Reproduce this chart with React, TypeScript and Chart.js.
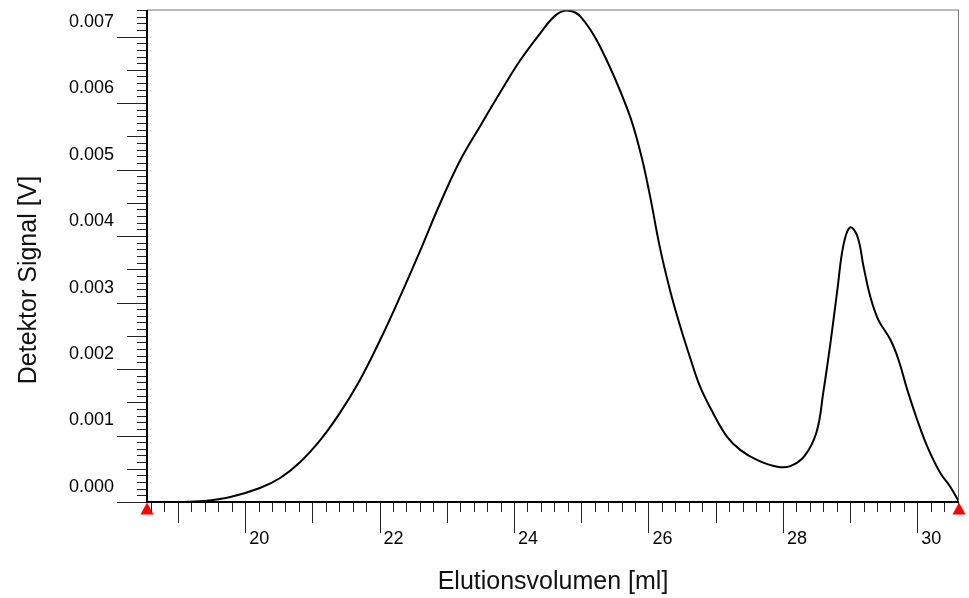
import React, { useEffect, useRef } from "react";
import { Chart, registerables } from "chart.js";

Chart.register(...registerables);

// Elution volume [ml]
const elutionMl = [
  18.54, 18.96, 19.39, 19.78, 20.22, 20.52, 20.82, 21.12, 21.41, 21.71,
  22.01, 22.31, 22.6, 22.9, 23.2, 23.5, 23.8, 24.09, 24.39, 24.63,
  24.81, 24.99, 25.28, 25.69, 25.88, 26.02, 26.17, 26.32, 26.47, 26.62,
  26.77, 26.96, 27.17, 27.37, 27.62, 27.92, 28.11, 28.32, 28.5,
  28.6, 28.71, 28.81, 28.9, 29.0, 29.11, 29.2, 29.3, 29.42, 29.6,
  29.72, 29.85, 30.0, 30.15, 30.34, 30.49, 30.62,
];

// Detector signal [V]
const signalV = [
  0, 0, 0.000015, 0.000075, 0.000211, 0.000361, 0.000602, 0.000934, 0.00134, 0.00184,
  0.00244, 0.0031, 0.00377, 0.00449, 0.00514, 0.00566, 0.00617, 0.00664, 0.00705, 0.00733,
  0.00739, 0.0073, 0.00685, 0.0059, 0.00526, 0.00462, 0.00383, 0.00319, 0.00265, 0.00217,
  0.00173, 0.00134, 0.00098, 0.00078, 0.00063, 0.00053, 0.00054, 0.00069, 0.00105,
  0.00164, 0.00241, 0.00319, 0.00386, 0.00413, 0.00399, 0.00354, 0.00309, 0.00274, 0.00244,
  0.00214, 0.00169, 0.00123, 0.00083, 0.00044, 0.00023, 0,
];

// Integration limits (red markers)
const integrationLimits = [18.54, 30.62];

const xRange = [18.54, 30.62];
const yRange = [0, 0.0074];
const xMajorStep = 2;
const yMajorStep = 0.001;

const xTitle = "Elutionsvolumen [ml]";
const yTitle = "Detektor Signal [V]";

const FONT = '"Liberation Sans", Arial, Helvetica, sans-serif';

const chromPlugin = {
  id: "chromAxes",
  afterDraw(chart: any) {
    const { ctx, chartArea: a, scales } = chart;
    const x = scales.x;
    const y = scales.y;
    ctx.save();

    // tick marks
    ctx.strokeStyle = "#222";
    ctx.lineWidth = 1;
    ctx.beginPath();
    const yCount = Math.floor(y.max / 0.0001 + 1e-6);
    for (let i = 0; i <= yCount; i++) {
      const v = i * 0.0001;
      const py = Math.round(y.getPixelForValue(v)) + 0.5;
      const len = i % 10 === 0 ? 30 : i % 5 === 0 ? 20 : 10;
      ctx.moveTo(a.left - len, py);
      ctx.lineTo(a.left, py);
    }
    for (let i = Math.ceil(x.min / 0.2 - 1e-6); i * 0.2 <= x.max + 1e-6; i++) {
      const px = Math.round(x.getPixelForValue(i * 0.2)) + 0.5;
      const len = i % 10 === 0 ? 31 : i % 5 === 0 ? 21 : 10;
      ctx.moveTo(px, a.bottom);
      ctx.lineTo(px, a.bottom + len);
    }
    ctx.stroke();

    // frame: top and right gray
    ctx.strokeStyle = "#777";
    ctx.lineWidth = 1;
    ctx.beginPath();
    ctx.moveTo(a.left, a.top);
    ctx.lineTo(a.right - 0.5, a.top);
    ctx.lineTo(a.right - 0.5, a.bottom);
    ctx.stroke();

    // axes: left and bottom black
    ctx.fillStyle = "#000";
    ctx.fillRect(a.left - 1, a.top, 2, a.bottom - a.top + 1);
    ctx.fillRect(a.left - 1, a.bottom - 1, a.right - a.left + 1, 2);

    // integration limit markers
    ctx.fillStyle = "#ff0000";
    for (const lim of integrationLimits) {
      const px = x.getPixelForValue(lim);
      ctx.beginPath();
      ctx.moveTo(px, a.bottom + 0.5);
      ctx.lineTo(px - 6.5, a.bottom + 12.5);
      ctx.lineTo(px + 6.5, a.bottom + 12.5);
      ctx.closePath();
      ctx.fill();
    }

    // axis titles
    ctx.fillStyle = "#111";
    ctx.font = `25px ${FONT}`;
    ctx.textAlign = "center";
    ctx.textBaseline = "alphabetic";
    ctx.fillText(xTitle, (a.left + a.right) / 2, 589);
    ctx.translate(36, 280);
    ctx.rotate(-Math.PI / 2);
    ctx.fillText(yTitle, 0, 0);

    ctx.restore();
  },
};

export default function App() {
  const canvasRef = useRef<HTMLCanvasElement | null>(null);

  useEffect(() => {
    const canvas = canvasRef.current;
    if (!canvas) return;
    const points = elutionMl.map((v, i) => ({ x: v, y: signalV[i] }));
    const chart = new Chart(canvas, {
      type: "line",
      data: {
        datasets: [
          {
            data: points,
            borderColor: "#000",
            borderWidth: 2,
            pointRadius: 0,
            fill: false,
            tension: 0.4,
          },
        ],
      },
      options: {
        responsive: false,
        animation: false,
        devicePixelRatio: 1,
        layout: { padding: { top: 10, right: 10, left: 0, bottom: 0 } },
        plugins: {
          legend: { display: false },
          tooltip: { enabled: false },
        },
        scales: {
          x: {
            type: "linear",
            min: xRange[0],
            max: xRange[1],
            grid: { display: false, drawTicks: false, tickLength: 0 },
            border: { display: false },
            afterFit: (scale: any) => {
              scale.height = 96;
              scale.paddingLeft = 0;
              scale.paddingRight = 0;
              scale.paddingTop = 0;
              scale.paddingBottom = 0;
            },
            ticks: {
              stepSize: xMajorStep,
              includeBounds: false,
              autoSkip: false,
              maxRotation: 0,
              minRotation: 0,
              align: "start",
              labelOffset: 4,
              padding: 26,
              color: "#000",
              font: { family: FONT, size: 18 },
              callback: (v: any) => String(v),
            },
          },
          y: {
            type: "linear",
            min: yRange[0],
            max: yRange[1],
            grid: { display: false, drawTicks: false, tickLength: 0 },
            border: { display: false },
            afterFit: (scale: any) => {
              scale.width = 147;
              scale.paddingLeft = 0;
              scale.paddingRight = 0;
              scale.paddingTop = 0;
              scale.paddingBottom = 0;
            },
            ticks: {
              stepSize: yMajorStep,
              includeBounds: false,
              autoSkip: false,
              padding: 33,
              labelOffset: -15,
              color: "#000",
              font: { family: FONT, size: 18 },
              callback: (v: any) => Number(v).toFixed(3),
            },
          },
        },
      },
      plugins: [chromPlugin],
    } as any);
    return () => chart.destroy();
  }, []);

  return (
    <div style={{ position: "fixed", left: 0, top: 0, width: 969, height: 598, background: "#fff" }}>
      <canvas ref={canvasRef} width={969} height={598} style={{ display: "block" }} />
    </div>
  );
}
